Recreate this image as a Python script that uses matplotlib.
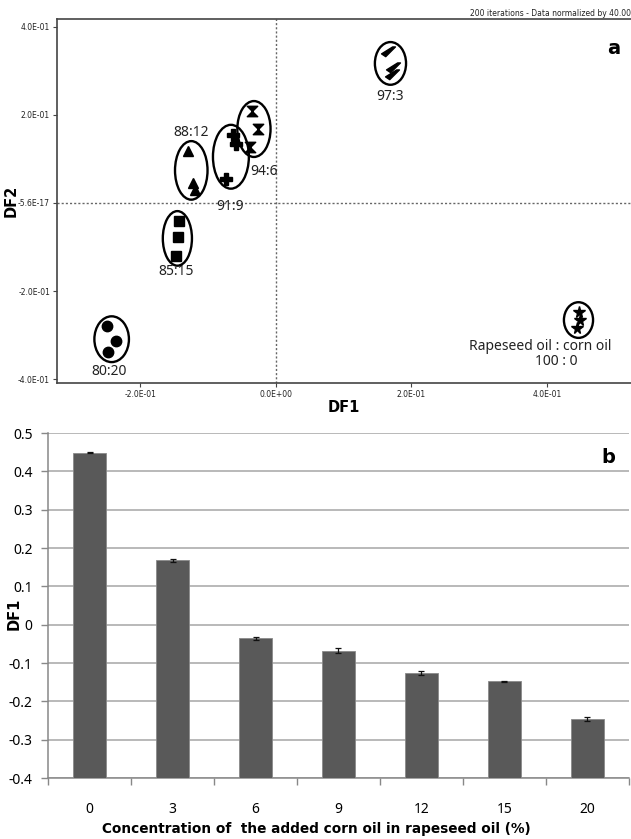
import matplotlib
matplotlib.use("Agg")
import matplotlib.pyplot as plt
import numpy as np
from matplotlib.patches import Ellipse
from matplotlib.path import Path

plt.rcParams['font.family'] = ['Noto Sans', 'DejaVu Sans']
BOLD = ['DejaVu Sans']

# ---------------- data: panel a (DF1 vs DF2 scores) ----------------
groups = ["80:20", "85:15", "88:12", "91:9", "94:6", "97:3", "100:0"]
df1_pts = [
    [-0.249, -0.236, -0.248],
    [-0.143, -0.145, -0.148],
    [-0.130, -0.122, -0.120],
    [-0.063, -0.059, -0.074],
    [-0.035, -0.027, -0.038],
    [0.165, 0.173, 0.171],
    [0.447, 0.449, 0.444],
]
df2_pts = [
    [-0.280, -0.314, -0.339],
    [-0.041, -0.077, -0.120],
    [0.118, 0.045, 0.030],
    [0.155, 0.134, 0.055],
    [0.209, 0.168, 0.127],
    [0.343, 0.307, 0.291],
    [-0.248, -0.266, -0.284],
]
x_ticks_a = [-0.2, 0.0, 0.2, 0.4]
x_ticklabels_a = ["-2.0E-01", "0.0E+00", "2.0E-01", "4.0E-01"]
y_ticks_a = [0.4, 0.2, 0.0, -0.2, -0.4]
y_ticklabels_a = ["4.0E-01", "2.0E-01", "-5.6E-17", "-2.0E-01", "-4.0E-01"]

# ---------------- data: panel b (bar chart) ----------------
conc = ["0", "3", "6", "9", "12", "15", "20"]
df1_mean = [0.449, 0.168, -0.035, -0.068, -0.127, -0.148, -0.247]
df1_err = [0.001, 0.004, 0.004, 0.007, 0.005, 0.001, 0.005]
y_ticks_b = [0.5, 0.4, 0.3, 0.2, 0.1, 0, -0.1, -0.2, -0.3, -0.4]
y_ticklabels_b = ["0.5", "0.4", "0.3", "0.2", "0.1", "0", "-0.1", "-0.2", "-0.3", "-0.4"]

fig = plt.figure(figsize=(6.31, 8.39), dpi=100)

# ================= panel a =================
axa = fig.add_axes([0.0903, 0.5435, 0.9097, 0.4339])
axa.set_xlim(-0.3232, 0.524)
axa.set_ylim(-0.409, 0.418)

# marker shapes
hourglass = Path([(-1, 1), (1, 1), (-1, -1), (1, -1), (-1, 1)],
                 [Path.MOVETO, Path.LINETO, Path.LINETO, Path.LINETO, Path.CLOSEPOLY])
slant = Path([(-1, -0.2), (0.6, 0.8), (1, 0.8), (-0.4, -0.6), (-1, -0.2)],
             [Path.MOVETO, Path.LINETO, Path.LINETO, Path.LINETO, Path.CLOSEPOLY])
markers = ['o', 's', '^', 'P', hourglass, slant, '*']
msizes = [7.5, 7.5, 7.5, 8, 7.5, 10, 8.5]

pad_x = 0.038
pad_y = 0.045
for i, g in enumerate(groups):
    xs = np.array(df1_pts[i])
    ys = np.array(df2_pts[i])
    axa.plot(xs, ys, linestyle='none', marker=markers[i], ms=msizes[i],
             color='black', mec='black', zorder=3)
    cx = (xs.min() + xs.max()) / 2
    cy = (ys.min() + ys.max()) / 2
    w = (xs.max() - xs.min()) + pad_x
    h = (ys.max() - ys.min()) + pad_y
    axa.add_patch(Ellipse((cx, cy), w, h, fill=False, ec='black', lw=1.7, zorder=4))

lab_kw = dict(fontsize=10, ha='center', va='center', color='#222222')
axa.text(-0.2465, -0.382, "80:20", **lab_kw)
axa.text(-0.1476, -0.155, "85:15", **lab_kw)
axa.text(-0.1255, 0.161, "88:12", **lab_kw)
axa.text(-0.068, -0.007, "91:9", **lab_kw)
axa.text(-0.0177, 0.0705, "94:6", **lab_kw)
axa.text(0.168, 0.241, "97:3", **lab_kw)
axa.text(0.390, -0.325, "Rapeseed oil : corn oil", **lab_kw)
axa.text(0.413, -0.361, "100 : 0", **lab_kw)

axa.axvline(0, color='#666666', lw=1, ls=(0, (1.5, 1.5)), zorder=1)
axa.axhline(0, color='#666666', lw=1, ls=(0, (1.5, 1.5)), zorder=1)

narrow = ['Liberation Sans Narrow', 'DejaVu Sans']
axa.set_xticks(x_ticks_a)
axa.set_xticklabels(x_ticklabels_a, fontsize=5.5, family=narrow)
axa.set_yticks(y_ticks_a)
axa.set_yticklabels(y_ticklabels_a, fontsize=5.5, family=narrow)
axa.tick_params(length=3, width=0.8, color='#444444', pad=2, labelcolor='#222222')
axa.spines['right'].set_visible(False)
for s in ['left', 'top', 'bottom']:
    axa.spines[s].set_color('#444444')
    axa.spines[s].set_linewidth(1.2)
axa.set_xlabel("DF1", fontsize=10.5, fontweight='bold', family=BOLD)
axa.xaxis.set_label_coords(0.5, -0.047)
axa.set_ylabel("DF2", fontsize=10.5, fontweight='bold', family=BOLD)
axa.yaxis.set_label_coords(-0.066, 0.5)
axa.text(0.97, 0.92, "a", transform=axa.transAxes, fontsize=14, fontweight='bold',
         family=BOLD, ha='center', va='center')
fig.text(0.9995, 0.9835, "200 iterations - Data normalized by 40.00", fontsize=5.5,
         family=narrow, ha='right', va='center', color='#222222')

# ================= panel b =================
axb = fig.add_axes([0.0761, 0.0727, 0.9207, 0.4112])
xpos = np.arange(len(conc))
base = -0.4
heights = [v - base for v in df1_mean]
axb.bar(xpos, heights, bottom=base, width=0.4, color='#595959', edgecolor='#8a8a8a',
        lw=0.6, zorder=3)
axb.errorbar(xpos, df1_mean, yerr=df1_err, fmt='none', ecolor='#111111', elinewidth=0.9,
             capsize=2.5, capthick=0.9, zorder=4)
axb.set_xlim(-0.5, len(conc) - 0.5)
axb.set_ylim(-0.4, 0.5)
axb.set_yticks(y_ticks_b)
axb.set_yticklabels(y_ticklabels_b, fontsize=10)
axb.yaxis.grid(True, color='#a6a6a6', lw=1.1, zorder=0)
axb.set_axisbelow(True)
axb.set_xticks(xpos)
axb.set_xticklabels(conc, fontsize=10)
axb.set_xticks(np.arange(-0.5, len(conc) + 0.5, 1.0), minor=True)
axb.tick_params(axis='x', which='major', length=0, pad=17)
axb.tick_params(axis='x', which='minor', length=5, width=1, color='#888888')
axb.tick_params(axis='y', length=5, width=1, color='#888888', pad=6)
for s in ['top', 'right']:
    axb.spines[s].set_visible(False)
for s in ['left', 'bottom']:
    axb.spines[s].set_color('#888888')
    axb.spines[s].set_linewidth(1.1)
axb.set_xlabel("Concentration of  the added corn oil in rapeseed oil (%)", fontsize=9.8,
               fontweight='bold', family=BOLD)
axb.xaxis.set_label_coords(0.461, -0.128)
axb.set_ylabel("DF1", fontsize=10.5, fontweight='bold', family=BOLD)
axb.yaxis.set_label_coords(-0.045, 0.475)
axb.text(0.965, 0.93, "b", transform=axb.transAxes, fontsize=14, fontweight='bold',
         family=BOLD, ha='center', va='center')

fig.savefig("out.png", dpi=100)
